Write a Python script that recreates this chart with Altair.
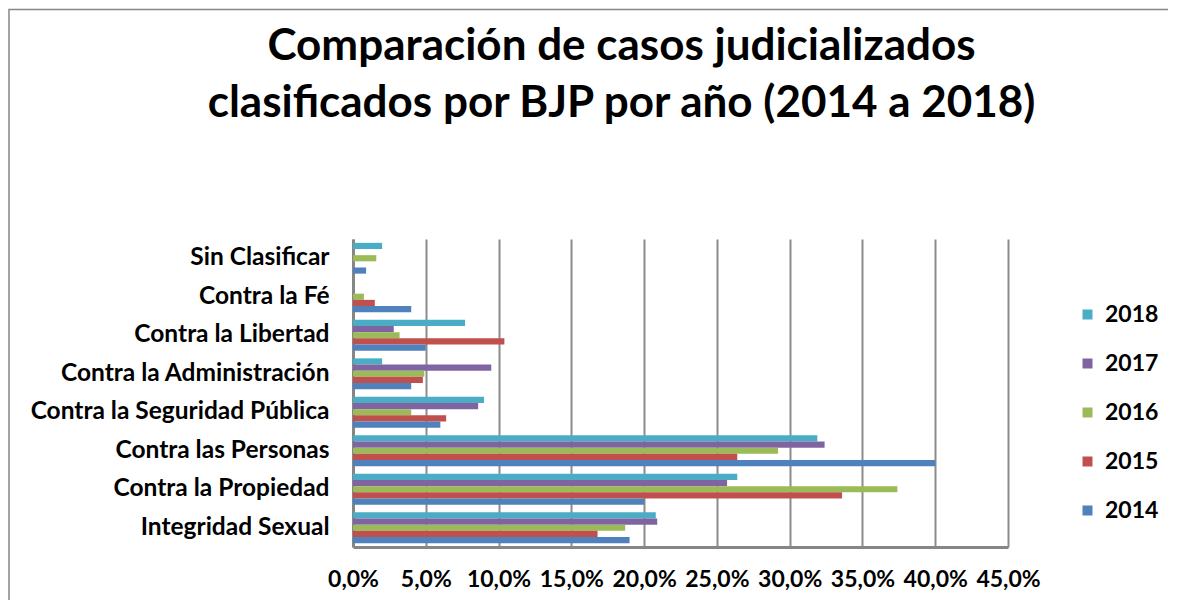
import altair as alt
import pandas as pd

categories = [
    "Sin Clasificar",
    "Contra la Fé",
    "Contra la Libertad",
    "Contra la Administración",
    "Contra la Seguridad Pública",
    "Contra las Personas",
    "Contra la Propiedad",
    "Integridad Sexual",
]
years = ["2018", "2017", "2016", "2015", "2014"]
colors = ["#4BACC6", "#8064A2", "#9BBB59", "#C0504D", "#4F81BD"]

v2018 = [2.0, 0.0, 7.7, 2.0, 9.0, 31.9, 26.4, 20.8]
v2017 = [0.0, 0.0, 2.8, 9.5, 8.6, 32.4, 25.7, 20.9]
v2016 = [1.6, 0.75, 3.2, 4.9, 4.0, 29.2, 37.4, 18.7]
v2015 = [0.0, 1.5, 10.4, 4.8, 6.4, 26.4, 33.6, 16.8]
v2014 = [0.9, 4.0, 5.0, 4.0, 6.0, 40.0, 20.0, 19.0]

series = {"2018": v2018, "2017": v2017, "2016": v2016, "2015": v2015, "2014": v2014}
rows = []
for yr in years:
    for cat, val in zip(categories, series[yr]):
        rows.append({"categoria": cat, "anio": yr, "valor": val})
df = pd.DataFrame(rows)

tick_values = [0, 5, 10, 15, 20, 25, 30, 35, 40, 45]
FONT = "Lato"
LBL = 23

bars = alt.Chart(df).mark_bar().encode(
    y=alt.Y("categoria:N", sort=categories, title=None,
            scale=alt.Scale(paddingInner=0.2, paddingOuter=0.1),
            axis=alt.Axis(ticks=False, labelPadding=24, labelFontSize=24.5,
                          labelFont=FONT, labelFontWeight="bold", labelColor="#000000",
                          domainColor="#868686", domainWidth=3, grid=False,
                          labelLimit=400)),
    yOffset=alt.YOffset("anio:N", sort=years),
    x=alt.X("valor:Q", title=None,
            scale=alt.Scale(domain=[0, 45], nice=False),
            axis=alt.Axis(values=tick_values, ticks=False, labelPadding=21,
                          labelOverlap=False, labelFlush=False,
                          labelFontSize=LBL, labelFont=FONT, labelFontWeight="bold",
                          labelColor="#000000", domainColor="#868686", domainWidth=3,
                          grid=True, gridColor="#8C8C8C", gridWidth=2,
                          labelExpr="replace(format(datum.value, '.1f'), '.', ',') + '%'")),
    color=alt.Color("anio:N", sort=years,
                    scale=alt.Scale(domain=years, range=colors),
                    legend=alt.Legend(title=None, orient="none", legendX=723, legendY=64,
                                      symbolType="square", symbolSize=100,
                                      symbolStrokeWidth=0, labelFontSize=LBL,
                                      labelFont=FONT, labelFontWeight="bold",
                                      labelColor="#000000", rowPadding=25,
                                      labelOffset=6)),
)

frame = alt.Chart(pd.DataFrame({"k": [0]})).mark_rect(
    fill="transparent", stroke="#868686", strokeWidth=1.5
).encode(
    x=alt.value(-344), x2=alt.value(900),
    y=alt.value(-229.5), y2=alt.value(500),
)

chart = alt.layer(frame, bars).properties(
    width=655,
    height=308,
    title=alt.Title(
        text=["Comparación de casos judicializados",
              "clasificados por BJP por año (2014 a 2018)"],
        anchor="middle", dx=-59, offset=-117, fontSize=44, font=FONT,
        fontWeight="bold", color="#000000", lineHeight=57,
    ),
    autosize=alt.AutoSizeParams(type="none"),
    padding={"left": 345, "top": 231, "right": 160, "bottom": 53},
).configure_view(stroke=None)

chart.save("out.html", embed_options={"renderer": "svg", "actions": False})
